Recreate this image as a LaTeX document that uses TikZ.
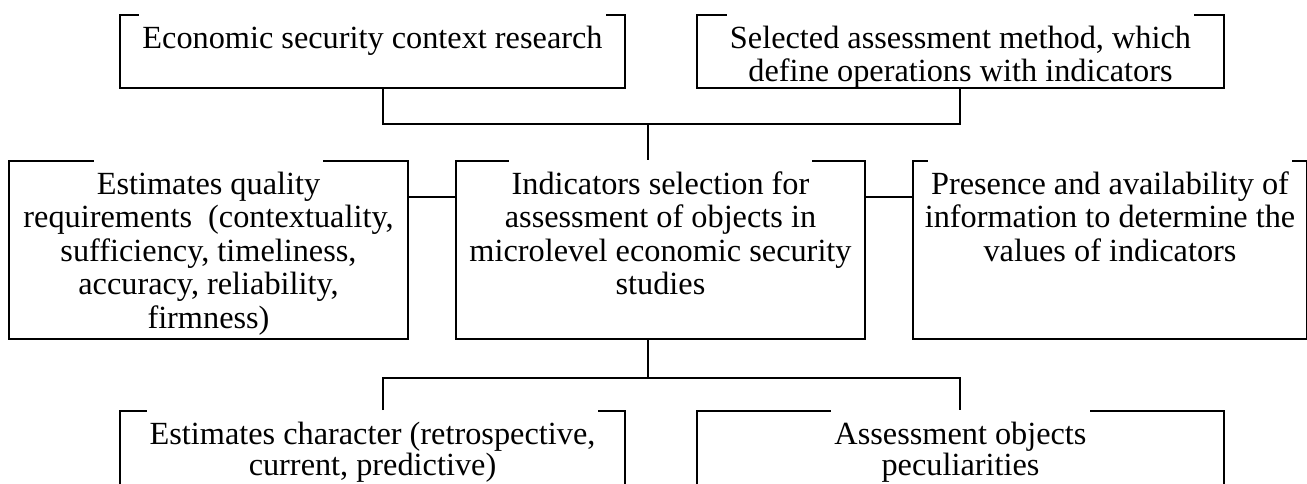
\documentclass[tikz,border=0pt]{standalone}
\usepackage{fontspec}
\setmainfont{Liberation Serif}
\newcommand{\wl}[1]{{\setlength{\fboxsep}{0pt}\colorbox{white}{\hspace{3pt}\rule[-7pt]{0pt}{46pt}#1\hspace{3pt}}}}
\begin{document}
\begin{tikzpicture}[x=1pt,y=-1pt,
  box/.style={draw, line width=2pt, inner sep=0pt, rectangle, anchor=north west},
  txt/.style={inner sep=0pt, align=center, anchor=north, font=\fontsize{32.3}{33.5}\selectfont},
  txtb/.style={txt, font=\fontsize{32.3}{31.5}\selectfont},
  conn/.style={line width=2pt}]
\clip (0,0) rectangle (1307,484);
% boxes
\node[box, minimum width=505pt, minimum height=73pt] (b1) at (119,14) {};
\node[box, minimum width=527pt, minimum height=73pt] (b2) at (696,14) {};
\node[box, minimum width=399pt, minimum height=178pt] (l) at (8,160) {};
\node[box, minimum width=409pt, minimum height=178pt] (c) at (455,160) {};
\node[box, minimum width=394pt, minimum height=178pt] (r) at (912,160) {};
\node[box, minimum width=505pt, minimum height=120pt] (bl) at (119,410) {};
\node[box, minimum width=527pt, minimum height=120pt] (br) at (696,410) {};
% texts
\node[txt] (t1) at ([yshift=5pt]b1.north) {\wl{Economic security context research}};
\node[txt] (t2) at ([yshift=5pt]b2.north) {\wl{Selected assessment method, which}\\define operations with indicators};
\node[txt] (tl) at ([yshift=5pt]l.north) {\wl{Estimates quality}\\requirements\ \ (contextuality,\\sufficiency, timeliness,\\accuracy, reliability,\\firmness)};
\node[txt] (tc) at ([yshift=5pt]c.north) {\wl{Indicators selection for}\\assessment of objects in\\microlevel economic security\\studies};
\node[txt] (tr) at ([yshift=5pt]r.north) {\wl{Presence and availability of}\\information to determine the\\values of indicators};
\node[txtb] (tbl) at ([yshift=5pt]bl.north) {\wl{Estimates character (retrospective,}\\current, predictive)};
\node[txtb] (tbr) at ([yshift=5pt]br.north) {\wl{Assessment objects}\\peculiarities};
% connectors
\coordinate (j1) at (383,124);
\coordinate (j2) at (960,124);
\coordinate (jt) at (648,124);
\coordinate (m) at (0,197);
\coordinate (k1) at (383,378);
\coordinate (k2) at (960,378);
\coordinate (kt) at (648,378);
\draw[conn] (b1.south -| j1) -- (j1) -- (j2) -- (b2.south -| j2);
\draw[conn] (jt) -- (c.north -| jt);
\draw[conn] (l.east |- m) -- (c.west |- m);
\draw[conn] (c.east |- m) -- (r.west |- m);
\draw[conn] (c.south -| kt) -- (kt);
\draw[conn] (bl.north -| k1) -- (k1) -- (k2) -- (br.north -| k2);
\end{tikzpicture}
\end{document}
